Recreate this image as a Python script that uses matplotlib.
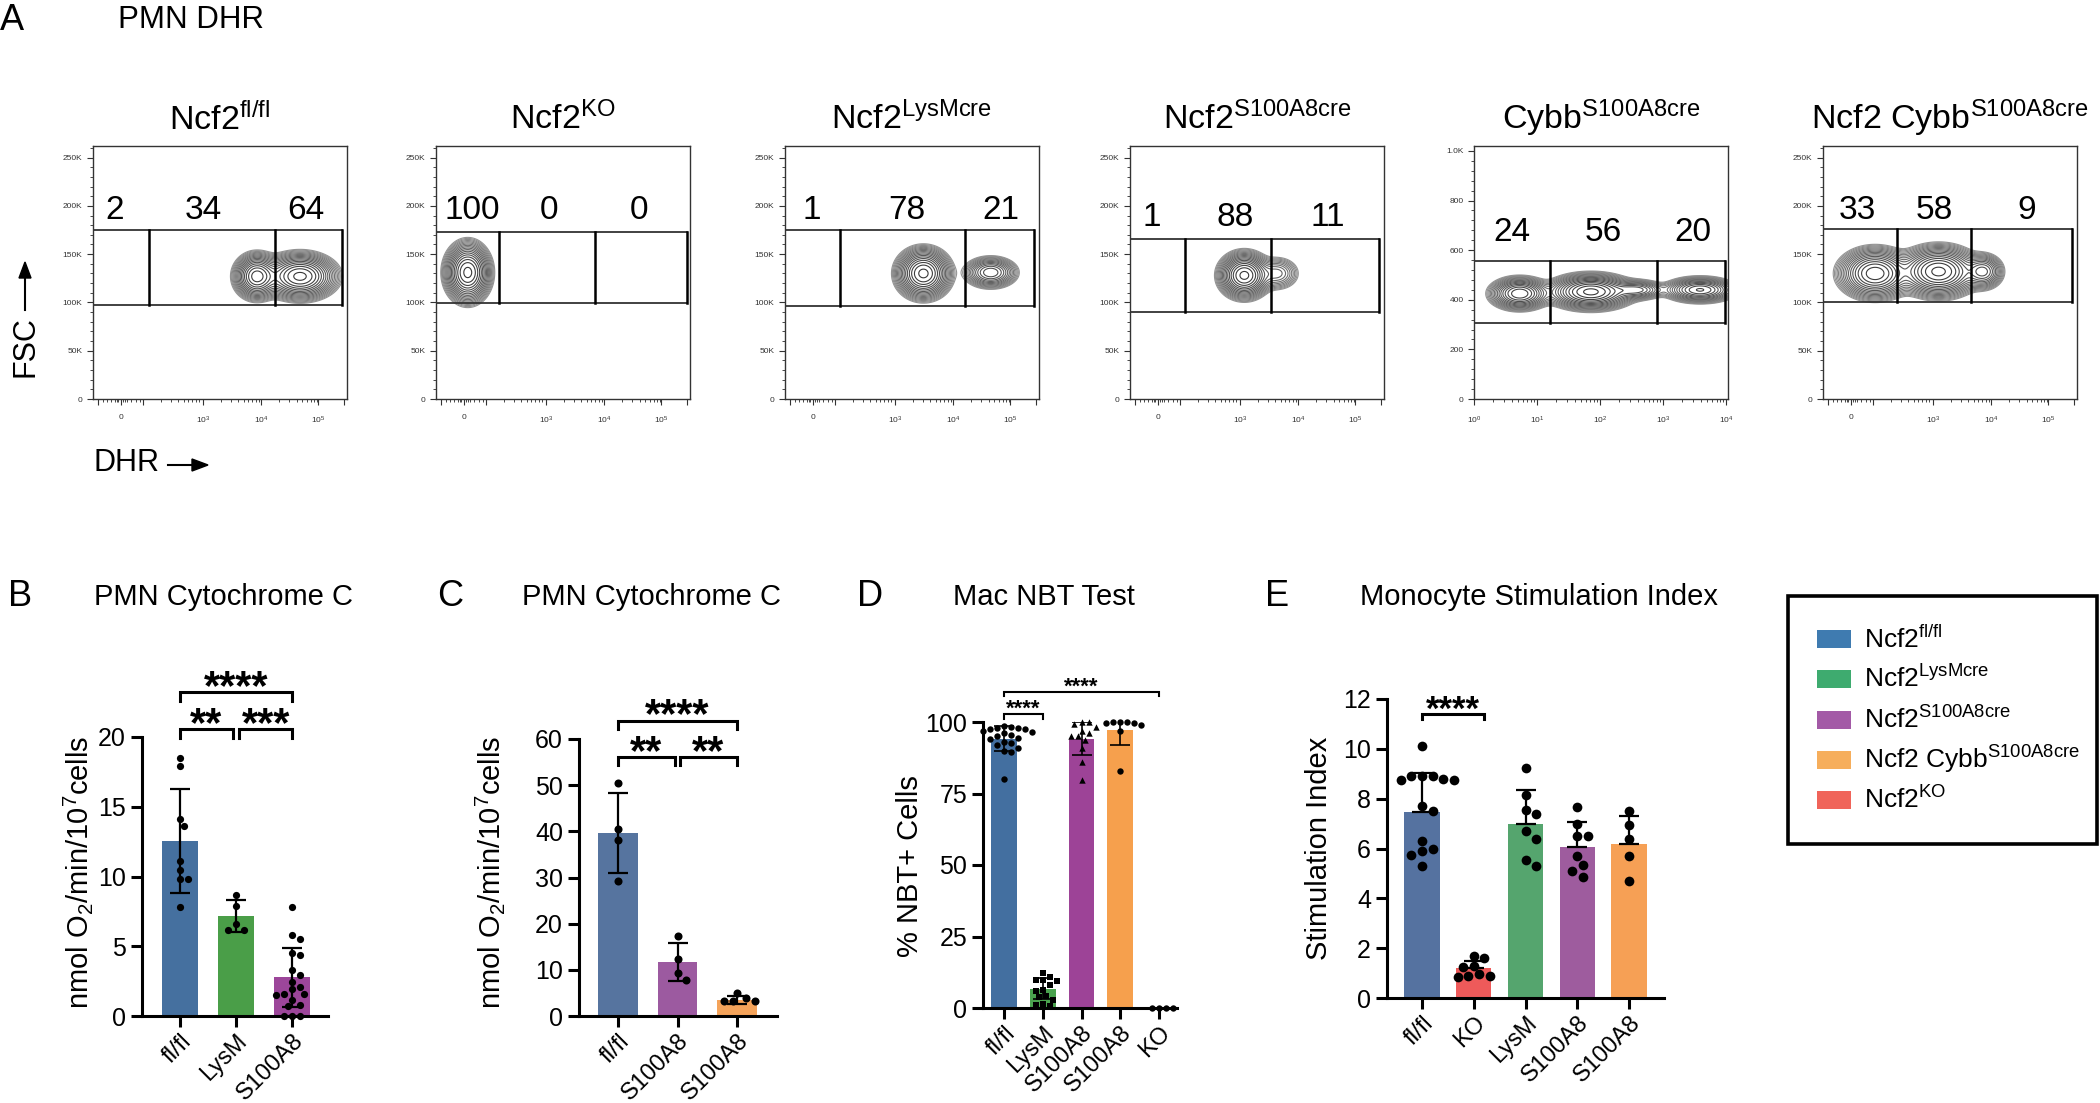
import numpy as np
import matplotlib
matplotlib.use('Agg')
import matplotlib.pyplot as plt
from matplotlib.patches import Rectangle

plt.rcParams['font.family'] = ['Liberation Sans', 'DejaVu Sans']
plt.rcParams['mathtext.fontset'] = 'custom'
plt.rcParams['mathtext.rm'] = 'Liberation Sans'
plt.rcParams['mathtext.default'] = 'regular'

W, H = 2100, 1103

# ---------------- panel A data (flow plots) ----------------
flow_titles = ['Ncf2$^{fl/fl}$', 'Ncf2$^{KO}$', 'Ncf2$^{LysMcre}$',
               'Ncf2$^{S100A8cre}$', 'Cybb$^{S100A8cre}$', 'Ncf2 Cybb$^{S100A8cre}$']
gate_pcts = [[2, 34, 64], [100, 0, 0], [1, 78, 21], [1, 88, 11], [24, 56, 20], [33, 58, 9]]
# gate dividers on the display axis (0..1)
gate_edges = [[0, 0.22, 0.718, 0.98], [0, 0.248, 0.625, 0.987], [0, 0.216, 0.708, 0.98],
              [0, 0.216, 0.554, 0.98], [0, 0.30, 0.72, 0.99], [0, 0.29, 0.584, 0.98]]
gate_low = [97, 99, 96, 90, 308, 100]
gate_high = [175, 173, 175, 166, 555, 176]
pct_x = [[0.087, 0.433, 0.84], [0.142, 0.446, 0.80], [0.105, 0.48, 0.85],
         [0.085, 0.414, 0.78], [0.15, 0.51, 0.86], [0.134, 0.44, 0.80]]
pct_y = [186, 186, 186, 179, 636, 186]
# populations: (x centre, y centre, x spread, y spread, fraction)
pops = [
    [(0.645, 127, 0.038, 10, 0.34), (0.815, 127, 0.06, 10, 0.64)],
    [(0.125, 131, 0.038, 13, 1.0)],
    [(0.545, 130, 0.045, 11, 0.76), (0.81, 131, 0.045, 7, 0.22)],
    [(0.45, 128, 0.042, 10, 0.86), (0.58, 130, 0.04, 8, 0.11)],
    [(0.18, 425, 0.05, 28, 0.24), (0.46, 432, 0.07, 30, 0.5),
     (0.64, 440, 0.05, 18, 0.07), (0.89, 440, 0.06, 22, 0.19)],
    [(0.205, 130, 0.06, 11, 0.4), (0.455, 132, 0.065, 11, 0.5), (0.63, 132, 0.035, 8, 0.08)],
]

# ---------------- bar panel data ----------------
b_labels = ['fl/fl', 'LysM', 'S100A8']
b_means = [12.55, 7.16, 2.77]
b_sd = [3.75, 1.12, 2.1]
b_points = [[18.5, 17.9, 14.1, 13.6, 11.1, 10.45, 9.8, 9.8, 7.8],
            [8.7, 7.9, 6.6, 6.2, 6.2],
            [7.8, 5.8, 5.55, 4.5, 4.4, 3.3, 2.95, 2.45, 2.1, 1.9, 1.6, 1.6, 1.5,
             1.15, 0.8, 0.7, 0, 0, 0]]

c_labels = ['fl/fl', 'S100A8', 'S100A8']
c_means = [39.6, 11.7, 3.4]
c_sd = [8.6, 4.1, 0.9]
c_points = [[50.5, 40.6, 38.1, 29.3], [17.3, 12.4, 9.3, 7.9], [4.9, 3.9, 3.3, 3.2, 3.2]]

d_labels = ['fl/fl', 'LysM', 'S100A8', 'S100A8', 'KO']
d_means = [94.2, 6.8, 94.2, 97.1, 0]
d_sd = [4.3, 3.8, 5.7, 5.3, 0]
d_points = [[98.5, 98.3, 98, 97.8, 97.5, 97.5, 97, 96.5, 96, 95.5, 95, 94.5, 94, 93,
             92.5, 92, 91, 90, 89.5, 80],
            [12.2, 10.8, 9.7, 9.7, 9.5, 7.9, 6.2, 6.0, 4.1, 3.9, 2.7, 1.5, 0.9, 0.6],
            [100, 100, 99.4, 98.3, 97, 96, 95, 95, 93.6, 91, 86, 79.8],
            [100, 100, 100, 99.5, 99.5, 99, 97, 83],
            [0, 0, 0, 0]]
d_markers = ['o', 's', '^', 'o', 'o']

e_labels = ['fl/fl', 'KO', 'LysM', 'S100A8', 'S100A8']
e_means = [7.45, 1.19, 7.0, 6.07, 6.2]
e_sd = [1.6, 0.3, 1.35, 1.0, 1.12]
e_points = [[10.1, 8.9, 8.9, 8.9, 8.8, 8.75, 8.75, 7.7, 7.5, 6.3, 6.0, 5.9, 5.75, 5.3],
            [1.7, 1.6, 1.3, 1.25, 0.95, 0.9, 0.85, 0.9],
            [9.25, 8.15, 7.55, 7.4, 6.7, 6.4, 5.55, 5.3],
            [7.65, 7.0, 6.5, 6.5, 5.7, 5.35, 5.1, 4.85],
            [7.5, 6.95, 6.4, 5.7, 4.7]]

legend_labels = ['Ncf2$^{fl/fl}$', 'Ncf2$^{LysMcre}$', 'Ncf2$^{S100A8cre}$',
                 'Ncf2 Cybb$^{S100A8cre}$', 'Ncf2$^{KO}$']
legend_colors = ['#3f7bb0', '#3eab6f', '#a35aa6', '#f6ae5c', '#f0645a']

fig = plt.figure(figsize=(21, 11.03), dpi=100)


def add_ax(l, t, r, b):
    return fig.add_axes([l / W, 1 - b / H, (r - l) / W, (b - t) / H])


def ftext(x, y, s, **kw):
    fig.text(x / W, 1 - y / H, s, **kw)


# ---------------- panel A ----------------
ftext(0, 20, 'A', fontsize=26, va='center', ha='left')
ftext(118, 20, 'PMN DHR', fontsize=22.5, va='center', ha='left')

lefts = [93, 436, 785, 1130, 1474, 1823]
for i in range(6):
    ax = add_ax(lefts[i], 146, lefts[i] + 254, 399)
    log_axis = (i == 4)
    ymax = 1020 if log_axis else 262
    xs = np.linspace(0, 1, 400)
    ys = np.linspace(0, ymax, 400)
    X, Y = np.meshgrid(xs, ys)
    Z = np.zeros_like(X)
    for cx, cy, sx, sy, w in pops[i]:
        Z += w / (sx * sy) * np.exp(-0.5 * ((X - cx) / sx) ** 2 - 0.5 * ((Y - cy) / sy) ** 2)
    levels = Z.max() * np.geomspace(0.02, 0.92, 18)
    greys = [str(g) for g in np.linspace(0.58, 0.22, 18)]
    ax.contour(X, Y, Z, levels=levels, colors=greys, linewidths=0.8)

    e = gate_edges[i]
    lo, hi = gate_low[i], gate_high[i]
    ax.plot([e[0], e[-1]], [lo, lo], color='#333333', lw=1.3)
    ax.plot([e[0], e[-1]], [hi, hi], color='#333333', lw=1.3)
    for xe in e[1:]:
        ax.plot([xe, xe], [lo, hi], color='black', lw=1.8)
    for p, px in zip(gate_pcts[i], pct_x[i]):
        ax.text(px, pct_y[i], str(p), fontsize=24, ha='center', va='baseline')

    ax.set_xlim(0, 1)
    ax.set_ylim(0, ymax)
    for sp in ax.spines.values():
        sp.set_linewidth(1.0)
        sp.set_color('#333333')
    ax.tick_params(labelsize=6, direction='out', length=4, width=0.8, colors='#333333')
    ax.tick_params(which='minor', length=2, width=0.5)
    if log_axis:
        dec = 0.2483
        ax.set_yticks([0, 200, 400, 600, 800, 1000])
        ax.set_yticklabels(['0', '200', '400', '600', '800', '1.0K'])
        ax.set_yticks(np.arange(0, 1020, 40), minor=True)
        ax.set_xticks([k * dec for k in range(5)])
        ax.set_xticklabels(['10$^{%d}$' % k for k in range(5)])
        ax.set_xticks([k * dec + np.log10(m) * dec for k in range(4) for m in range(2, 10)],
                      minor=True)
    else:
        ax.set_yticks([0, 50, 100, 150, 200, 250])
        ax.set_yticklabels(['0', '50K', '100K', '150K', '200K', '250K'])
        ax.set_yticks(np.arange(0, 262, 10), minor=True)
        ax.set_xticks([0.02, 0.11, 0.197, 0.433, 0.663, 0.886, 0.99])
        ax.set_xticklabels(['', '0', '', '10$^3$', '10$^4$', '10$^5$', ''])
        dec = 0.23
        minors = [0.04, 0.055, 0.07, 0.085, 0.095, 0.1, 0.12, 0.125, 0.135, 0.15, 0.17, 0.185]
        minors += [s + np.log10(m) * dec for s in (0.197, 0.433, 0.663) for m in range(2, 10)]
        ax.set_xticks(minors, minor=True)
    ax.tick_params(axis='x', pad=7)
    ax.set_title(flow_titles[i], fontsize=24.5, pad=12)

ftext(25, 347, 'FSC', fontsize=22, rotation=90, ha='center', va='center')
fig.add_artist(plt.Line2D([25 / W, 25 / W], [1 - 310 / H, 1 - 275 / H], color='black', lw=1.5))
fig.add_artist(plt.Polygon([[19 / W, 1 - 278 / H], [31 / W, 1 - 278 / H], [25 / W, 1 - 262 / H]],
                           closed=True, color='black'))
ftext(93, 463, 'DHR', fontsize=22, ha='left', va='center')
fig.add_artist(plt.Line2D([168 / W, 195 / W], [1 - 465 / H, 1 - 465 / H], color='black', lw=1.5))
fig.add_artist(plt.Polygon([[192 / W, 1 - 459 / H], [192 / W, 1 - 471 / H], [208 / W, 1 - 465 / H]],
                           closed=True, color='black'))


# ---------------- bar panels ----------------
def swarm(vals, ppu_x, ppu_y, diam):
    placed = []
    order = sorted(range(len(vals)), key=lambda k: -vals[k])
    offs = [0.0]
    for k in range(1, 12):
        offs += [k * diam * 0.55, -k * diam * 0.55]
    res = [0.0] * len(vals)
    for idx in order:
        y = vals[idx] * ppu_y
        for c in offs:
            if all((c - px) ** 2 + (y - py) ** 2 >= (diam * 0.98) ** 2 for px, py in placed):
                break
        placed.append((c, y))
        res[idx] = c / ppu_x
    return res


def bar_panel(box, ylim, yticks, labels, means, sd, points, colors, msize,
              markers=None, upper_only=False, width=0.66, elw=1.6):
    l, t, r, b, x0, step = box
    ax = add_ax(l, t, r, b)
    n = len(labels)
    ax.set_xlim((l - x0) / step, (r - x0) / step)
    ax.set_ylim(*ylim)
    ppu_y = (b - t) / (ylim[1] - ylim[0])
    ax.bar(range(n), means, width=width, color=colors, zorder=1, edgecolor='none')
    lower = [0] * n if upper_only else sd
    ax.errorbar(range(n), means, yerr=[lower, sd], fmt='none', ecolor='black',
                elinewidth=elw, capsize=7, capthick=elw, zorder=3)
    diam = msize * 100 / 72
    for k in range(n):
        offs = swarm(points[k], step, ppu_y, diam)
        mk = markers[k] if markers else 'o'
        ax.scatter([k + o for o in offs], points[k], s=msize ** 2, c='black', marker=mk,
                   zorder=4, clip_on=False, linewidths=0)
    for sp in ['top', 'right']:
        ax.spines[sp].set_visible(False)
    for sp in ['left', 'bottom']:
        ax.spines[sp].set_linewidth(2.2)
    ax.set_yticks(yticks)
    ax.tick_params(axis='both', direction='out', length=8, width=2.2, labelsize=18)
    ax.tick_params(axis='x', pad=2)
    ax.set_xticks(range(n))
    ax.set_xticklabels(labels, rotation=45, ha='right', va='top', rotation_mode='anchor',
                       fontsize=17)
    return ax


def bracket(ax, x1, x2, y, tip, lw=2.2):
    ax.plot([x1, x1, x2, x2], [y - tip, y, y, y - tip], color='black', lw=lw,
            clip_on=False, solid_joinstyle='miter')


def stars(ax, x, y, text, fs):
    ax.text(x, y, text, ha='center', va='baseline', fontsize=fs, fontweight='bold')


# B
axb = bar_panel((142, 737, 328, 1016, 180, 56), (0, 20), [0, 5, 10, 15, 20], b_labels,
                b_means, b_sd, b_points, ['#45709f', '#4a9e48', '#9c469a'], 5.2)
bracket(axb, 0, 2, 23.2, 0.65)
bracket(axb, 0, 0.94, 20.6, 0.65)
bracket(axb, 1.06, 2, 20.6, 0.65)
stars(axb, 1, 22.7, '****', 30)
stars(axb, 0.47, 20.1, '**', 30)
stars(axb, 1.53, 20.1, '***', 30)
# C
axc = bar_panel((579, 739, 777, 1016, 618, 59.5), (0, 60), [0, 10, 20, 30, 40, 50, 60], c_labels,
                c_means, c_sd, c_points, ['#56749f', '#9c5aa0', '#f4a35a'], 5.8)
bracket(axc, 0, 2, 63.9, 1.8)
bracket(axc, 0, 0.965, 56.1, 1.8)
bracket(axc, 1.035, 2, 56.1, 1.8)
stars(axc, 1, 62.6, '****', 30)
stars(axc, 0.48, 54.6, '**', 30)
stars(axc, 1.52, 54.6, '**', 30)
# D
axd = bar_panel((983, 722, 1177, 1008, 1004, 38.75), (0, 100), [0, 25, 50, 75, 100], d_labels,
                d_means, d_sd, d_points, ['#436fa0', '#4aa24e', '#9d4397', '#f6a04d', '#ee5a5a'],
                4.6, markers=d_markers, width=0.67, elw=1.2)
bracket(axd, 0, 1, 102.7, 1.5, lw=1.5)
bracket(axd, 0, 4, 110.5, 1.5, lw=1.5)
stars(axd, 0.5, 102.6, '****', 16)
stars(axd, 2, 110.4, '****', 16)
# E
axe = bar_panel((1387, 699, 1664, 998, 1422, 51.75), (0, 12), [0, 2, 4, 6, 8, 10, 12], e_labels,
                e_means, e_sd, e_points, ['#5572a0', '#ee5a5a', '#55a56e', '#9e5c9e', '#f6a055'],
                7.0, upper_only=True, width=0.68)
bracket(axe, 0, 1.2, 11.4, 0.2)
stars(axe, 0.6, 11.15, '****', 25)

# panel letters, titles and y labels
for x, letter in [(8, 'B'), (437, 'C'), (857, 'D'), (1265, 'E')]:
    ftext(x, 597, letter, fontsize=26, ha='left', va='center')
for x, title in [(223, 'PMN Cytochrome C'), (651, 'PMN Cytochrome C'),
                 (1044, 'Mac NBT Test'), (1539, 'Monocyte Stimulation Index')]:
    ftext(x, 597, title, fontsize=21, ha='center', va='center')
ftext(78, 872, 'nmol O$_2$/min/10$^7$cells', fontsize=21, rotation=90, ha='center', va='center')
ftext(490, 872, 'nmol O$_2$/min/10$^7$cells', fontsize=21, rotation=90, ha='center', va='center')
ftext(910, 866, '% NBT+ Cells', fontsize=21, rotation=90, ha='center', va='center')
ftext(1319, 848, 'Stimulation Index', fontsize=21, rotation=90, ha='center', va='center')

# legend box
fig.add_artist(Rectangle((1788 / W, 1 - 844 / H), (2097 - 1788) / W, (844 - 596) / H,
                         fill=False, edgecolor='black', lw=2.6))
for k, (lab, col) in enumerate(zip(legend_labels, legend_colors)):
    yc = 639 + k * 40.3
    fig.add_artist(Rectangle((1817 / W, 1 - (yc + 9) / H), 34 / W, 18 / H,
                             facecolor=col, edgecolor='none'))
    ftext(1864, yc, lab, fontsize=19, ha='left', va='center')

fig.savefig('out.png', dpi=100)
